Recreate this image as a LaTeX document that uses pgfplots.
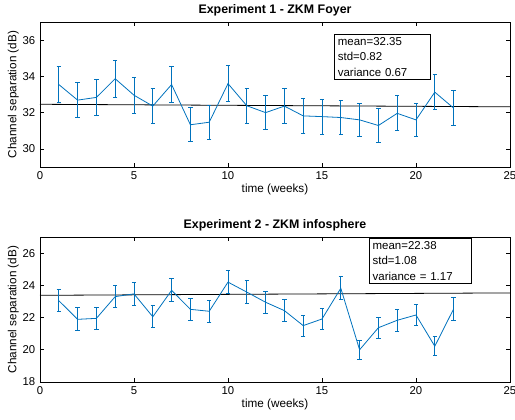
\documentclass[border=0pt]{standalone}
\usepackage{fontspec}
\setmainfont{Liberation Sans}
\usepackage{pgfplots}
\pgfplotsset{compat=1.18}
\definecolor{mblue}{rgb}{0,0.447,0.741}

\pgfplotsset{
  zkm/.style={
    scale only axis, width=352.5pt, height=108.75pt,
    xmin=0, xmax=25, xtick={0,5,...,25},
    tick align=inside, tick pos=both,
    major tick length=3pt,
    axis line style={line width=0.5pt},
    every tick/.style={black, line width=0.5pt},
    tick label style={font=\fontsize{8.5}{10}\selectfont},
    label style={font=\fontsize{8.8}{10.5}\selectfont},
    title style={font=\fontsize{9.3}{11}\selectfont\bfseries, yshift=-5pt},
    /pgf/number format/assume math mode=true,
    xlabel={time (weeks)}, ylabel={Channel separation (dB)},
    xlabel style={yshift=4pt}, ylabel style={yshift=-4pt},
  },
  errs/.style={mblue, line width=0.6pt, mark=none,
    error bars/.cd, y dir=both, y explicit,
    error bar style={line width=0.7pt, mblue},
    error mark options={rotate=90, mark size=1.6pt, line width=0.7pt, mblue}},
}

\begin{document}
\begin{tikzpicture}
\path[use as bounding box] (0,0) rectangle (386.25pt,315pt);

\begin{axis}[zkm, at={(30pt,189.75pt)}, anchor=south west,
  ymin=29, ymax=37, ytick={30,32,34,36},
  title={Experiment 1 - ZKM Foyer}]
\addplot[black, line width=0.6pt] coordinates {(0,32.46) (25,32.32)};
\addplot[errs] coordinates {
  (1,33.55) +- (0,1.00)
  (2,32.69) +- (0,0.97)
  (3,32.84) +- (0,0.99)
  (4,33.87) +- (0,1.01)
  (5,32.96) +- (0,0.98)
  (6,32.36) +- (0,0.97)
  (7,33.55) +- (0,1.00)
  (8,31.33) +- (0,0.94)
  (9,31.47) +- (0,0.95)
  (10,33.60) +- (0,1.00)
  (11,32.38) +- (0,0.97)
  (12,32.00) +- (0,0.94)
  (13,32.36) +- (0,0.97)
  (14,31.82) +- (0,0.95)
  (15,31.78) +- (0,0.96)
  (16,31.73) +- (0,0.96)
  (17,31.60) +- (0,0.93)
  (18,31.29) +- (0,0.95)
  (19,31.96) +- (0,0.96)
  (20,31.60) +- (0,0.93)
  (21,33.13) +- (0,0.98)
  (22,32.25) +- (0,0.97)
};
\node[draw=black, line width=0.5pt, fill=white, anchor=north west, align=left,
  inner sep=2.5pt, font=\fontsize{8.6}{11.5}\selectfont, text width=66.5pt]
  at (axis cs:15.65,36.35) {mean=32.35\\std=0.82\\variance 0.67};
\end{axis}

\begin{axis}[zkm, at={(30pt,28.5pt)}, anchor=south west,
  ymin=18, ymax=27, ytick={18,20,...,26},
  title={Experiment 2 - ZKM infosphere}]
\addplot[black, line width=0.6pt] coordinates {(0,23.38) (25,23.53)};
\addplot[errs] coordinates {
  (1,23.05) +- (0,0.68)
  (2,21.89) +- (0,0.71)
  (3,21.95) +- (0,0.67)
  (4,23.30) +- (0,0.68)
  (5,23.47) +- (0,0.72)
  (6,22.05) +- (0,0.68)
  (7,23.69) +- (0,0.72)
  (8,22.51) +- (0,0.70)
  (9,22.39) +- (0,0.69)
  (10,24.20) +- (0,0.70)
  (11,23.58) +- (0,0.72)
  (12,22.95) +- (0,0.70)
  (13,22.43) +- (0,0.69)
  (14,21.50) +- (0,0.65)
  (15,21.91) +- (0,0.66)
  (16,23.82) +- (0,0.70)
  (17,20.00) +- (0,0.60)
  (18,21.37) +- (0,0.66)
  (19,21.83) +- (0,0.68)
  (20,22.16) +- (0,0.68)
  (21,20.22) +- (0,0.60)
  (22,22.53) +- (0,0.70)
};
\node[draw=black, line width=0.5pt, fill=white, anchor=north west, align=left,
  inner sep=2.5pt, font=\fontsize{8.6}{11.5}\selectfont, text width=71.5pt]
  at (axis cs:17.5,26.95) {mean=22.38\\std=1.08\\variance = 1.17};
\end{axis}
\end{tikzpicture}
\end{document}
